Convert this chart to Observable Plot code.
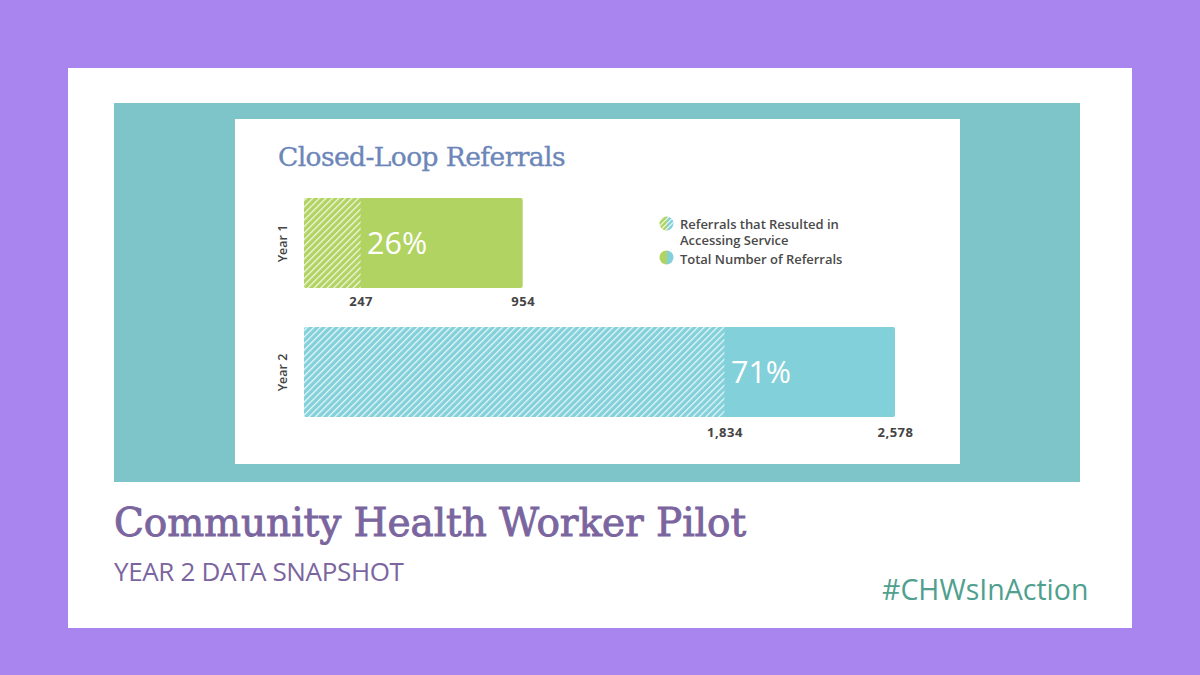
<!DOCTYPE html>
<html>
<head>
<meta charset="utf-8">
<script src="https://cdn.jsdelivr.net/npm/d3@7"></script>
<script src="https://cdn.jsdelivr.net/npm/@observablehq/plot@0.6"></script>
<style>
html,body{margin:0;padding:0;width:1200px;height:675px;overflow:hidden;background:#a885ef;}
#white{position:absolute;left:68px;top:68px;width:1064px;height:560px;background:#fff;}
#teal{position:absolute;left:114px;top:103px;width:966px;height:379px;background:#7dc5c9;}
#card{position:absolute;left:235px;top:119px;width:725px;height:345px;background:#fff;}
#chart{position:absolute;left:235px;top:119px;}
#chart svg{display:block;background:transparent;}
.t{position:absolute;white-space:nowrap;}
#ctitle{left:278px;top:140px;font:400 26.5px/34px "DejaVu Serif";color:#6c86b8;letter-spacing:-.58px;-webkit-text-stroke:.35px #6c86b8;}
#title{left:114px;top:500px;font:400 39px/46px "DejaVu Serif";color:#7b659f;letter-spacing:-.06px;-webkit-text-stroke:.9px #7b659f;}
#sub{left:114px;top:554px;font:400 26px/34px "Open Sans";color:#7b659f;letter-spacing:-.35px;}
#tag{left:882px;top:570px;font:400 28.5px/38px "Open Sans";color:#4fa08e;}
.leg{font:600 13px/16px "Open Sans";color:#4a4a4a;letter-spacing:-.03px;}
.sw{position:absolute;}
</style>
</head>
<body>
<div id="white"></div>
<div id="teal"></div>
<div id="card"></div>
<div id="chart"></div>
<div class="t" id="ctitle">Closed-Loop Referrals</div>
<div class="t" id="title">Community Health Worker Pilot</div>
<div class="t" id="sub">YEAR 2 DATA SNAPSHOT</div>
<div class="t" id="tag">#CHWsInAction</div>
<svg width="0" height="0" style="position:absolute">
  <defs>
    <pattern id="hatch" width="4.6" height="4.6" patternUnits="userSpaceOnUse" patternTransform="rotate(45)">
      <rect x="0" y="0" width="1.3" height="4.6" fill="#fff" fill-opacity="0.8"></rect>
    </pattern>
    <linearGradient id="half"><stop offset="50%" stop-color="#b1d362"></stop><stop offset="50%" stop-color="#82d0da"></stop></linearGradient>
    <pattern id="hatchSmall" width="3.5" height="3.5" patternUnits="userSpaceOnUse" patternTransform="rotate(45)">
      <rect x="0" y="0" width="1" height="3.5" fill="#fff"></rect>
    </pattern>
  </defs>
</svg>
<svg class="sw" style="left:659px;top:216px" width="15" height="15"><circle cx="7.5" cy="7.5" r="7" fill="url(#half)"></circle><circle cx="7.5" cy="7.5" r="7" fill="url(#hatchSmall)"></circle></svg>
<svg class="sw" style="left:659px;top:250px" width="15" height="15"><circle cx="7.5" cy="7.5" r="7" fill="url(#half)"></circle></svg>
<div class="t leg" style="left:680px;top:216px">Referrals that Resulted in<br>Accessing Service</div>
<div class="t leg" style="left:680px;top:251px">Total Number of Referrals</div>
<script>
const years = ["Year 1", "Year 2"];
const accessed = [247, 1834];
const totals = [954, 2578];
const percents = ["26%", "71%"];
const barColors = ["#b1d362", "#82d0da"];

const rows = years.map((year, i) => ({
  year, accessed: accessed[i], total: totals[i], percent: percents[i], color: barColors[i]
}));
const fmt = d3.format(",");
const labelStyle = {fontFamily: "Open Sans", fontSize: 13, fontWeight: 700, fill: "#444", stroke: "none"};
const valueLabels = (data, dy) => [
  Plot.text(data, {x: "accessed", y: "year", text: d => fmt(d.accessed), dy, ...labelStyle}),
  Plot.text(data, {x: "total", y: "year", text: d => fmt(d.total), dy, ...labelStyle})
];

const chart = Plot.plot({
  width: 725,
  height: 345,
  marginLeft: 69,
  marginRight: 65,
  marginTop: 79,
  marginBottom: 45.5,
  style: {background: "transparent"},
  x: {domain: [0, 2578], axis: null},
  y: {domain: years, paddingInner: 0.3, paddingOuter: 0, align: 0, label: null},
  marks: [
    Plot.axisY({tickSize: 0, tickRotate: -90, tickPadding: 18, label: null,
      fontFamily: "Open Sans", fontSize: 12.5, fontWeight: 600, color: "#444"}),
    Plot.barX(rows, {x1: 0, x2: "total", y: "year", fill: "color", rx: 2}),
    Plot.barX(rows, {x1: 0, x2: "accessed", y: "year", fill: "url(#hatch)"}),
    Plot.text(rows, {x: "accessed", y: "year", text: "percent", textAnchor: "start", dx: 6, dy: 1,
      fontFamily: "Open Sans", fontSize: 30.5, fontWeight: 400, fill: "#fff"}),
    valueLabels(rows.slice(0, 1), 58),
    valueLabels(rows.slice(1), 60)
  ]
});
chart.querySelectorAll("text").forEach(t => { if (/^[\d,]+$/.test(t.textContent)) t.style.letterSpacing = ".5px"; });
document.getElementById("chart").appendChild(chart);
</script>
</body>
</html>
